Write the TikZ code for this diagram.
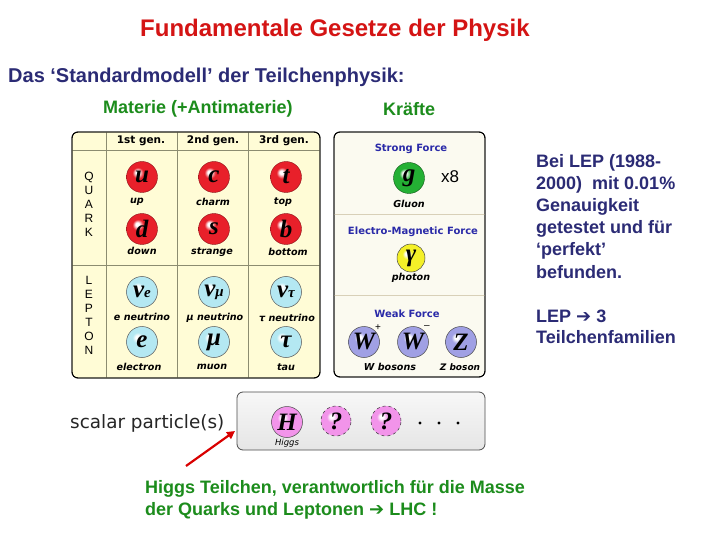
\documentclass[tikz,border=0pt]{standalone}
\usepackage{fontspec}
\setmainfont{Liberation Sans}
\newfontfamily\ballfont{Liberation Serif}
\newfontfamily\dvs{DejaVu Sans}
\usetikzlibrary{arrows.meta}
\definecolor{titlered}{HTML}{D41414}
\definecolor{navy}{HTML}{2B2B75}
\definecolor{mgreen}{HTML}{1C8C1C}
\definecolor{panelY}{HTML}{FFFCD6}
\definecolor{panelF}{HTML}{FBFAF0}
\definecolor{gridc}{HTML}{8C8C70}
\definecolor{forceblue}{HTML}{2A2AA8}
\definecolor{sepc}{HTML}{D8D0B8}
\definecolor{quarkc}{HTML}{E8202A}
\definecolor{leptonc}{HTML}{B4E8F2}
\definecolor{gluonc}{HTML}{24B034}
\definecolor{photonc}{HTML}{F4F028}
\definecolor{weakc}{HTML}{A0A0E4}
\definecolor{higgsc}{HTML}{F294EA}
\colorlet{ballc}{red}
\pgfdeclareradialshading[ballc]{pball}{\pgfpoint{-8bp}{8bp}}{%
  color(0bp)=(white); color(3bp)=(white); color(9bp)=(ballc);
  color(27bp)=(ballc); color(36bp)=(ballc!75!black); color(50bp)=(ballc!60!black)}
\newcommand{\arr}{{\dvs\bfseries ➔}}
\begin{document}
\begin{tikzpicture}[x=1pt,y=-1pt,
  txt/.style={inner sep=0pt, anchor=west},
  bigtxt/.style={txt, font=\bfseries\fontsize{18}{21.75}\selectfont},
  panel/.style={draw=black, line width=0.9pt, rounded corners=6pt},
  bcol/.code={\colorlet{ballc}{#1}},
  ballbase/.style={circle, inner sep=0pt, minimum size=31pt, shading=pball,
     font=\ballfont\bfseries\itshape\fontsize{25}{25}\selectfont},
  qball/.style={ballbase, bcol=quarkc, draw=quarkc!60!black, line width=0.4pt},
  lball/.style={ballbase, bcol=leptonc, draw=gray!70!black, line width=0.5pt},
  gball/.style={ballbase, bcol=gluonc, draw=gluonc!50!black, line width=0.4pt},
  yball/.style={ballbase, minimum size=28pt, bcol=photonc, draw=black!70, line width=0.5pt},
  wball/.style={ballbase, bcol=weakc, draw=black!70, line width=0.5pt},
  hball/.style={ballbase, bcol=higgsc, draw=black!70, line width=0.5pt},
  qmball/.style={ballbase, minimum size=30pt, bcol=higgsc, draw=black!80, dashed, line width=0.5pt},
  plabel/.style={inner sep=0pt, font=\dvs\bfseries\itshape\fontsize{9.6}{10}\selectfont},
  hdr/.style={inner sep=0pt, font=\dvs\bfseries\fontsize{10.5}{11}\selectfont},
  flabel/.style={inner sep=0pt, text=forceblue, font=\dvs\bfseries\fontsize{10}{11}\selectfont},
  grid/.style={draw=gridc, line width=0.6pt}]
\useasboundingbox[fill=white] (0,0) rectangle (720,540);

% --- headings
\node[txt, text=titlered, font=\bfseries\fontsize{24}{24}\selectfont] (title) at (140,30) {Fundamentale Gesetze der Physik};
\node[txt, text=navy, font=\bfseries\fontsize{20}{20}\selectfont] (sub) at (8,77) {Das ‘Standardmodell’ der Teilchenphysik:};
\node[bigtxt, text=mgreen] (materie) at (103,109) {Materie (+Antimaterie)};
\node[bigtxt, text=mgreen] (kraefte) at (383,109) {Kräfte};

% --- matter panel
\path[panel, fill=panelY] (72,132) rectangle (320,378);
\draw[grid] (106,132) -- (106,378) (177,132) -- (177,378) (248,132) -- (248,378);
\draw[grid] (72,150) -- (320,150) (72,265) -- (320,265);
\path[panel] (72,132) rectangle (320,378);
\node[hdr] (g1) at (141,141) {1st gen.};
\node[hdr] (g2) at (213,141) {2nd gen.};
\node[hdr] (g3) at (284,141) {3rd gen.};
\node[align=center, inner sep=0pt, font=\fontsize{12}{14}\selectfont] (quark) at (89,204) {Q\\U\\A\\R\\K};
\node[align=center, inner sep=0pt, font=\fontsize{12}{14}\selectfont] (lepton) at (89,315) {L\\E\\P\\T\\O\\N};

\node[qball] (u) at (142,177) {u};
\node[qball] (c) at (214,177) {c};
\node[qball] (t) at (286,177) {t};
\node[qball] (d) at (142,229) {d};
\node[qball] (s) at (214,229) {s};
\node[qball] (b) at (286,229) {b};
\node[plabel] (lu) at (137,202) {up};
\node[plabel] (lc) at (213,202) {charm};
\node[plabel] (lt) at (283,202) {top};
\node[plabel] (ld) at (142,251) {down};
\node[plabel] (ls) at (212,252) {strange};
\node[plabel] (lb) at (288,252) {bottom};

\node[lball] (ne) at (142,292) {ν\fontsize{15}{15}\selectfont e};
\node[lball] (nm) at (214,292) {ν\fontsize{15}{15}\selectfont μ};
\node[lball] (nt) at (286,292) {ν\fontsize{15}{15}\selectfont τ};
\node[lball] (e) at (142,342) {e};
\node[lball] (mu) at (214,342) {μ};
\node[lball] (tau) at (286,342) {τ};
\node[plabel] (lne) at (142,317) {e neutrino};
\node[plabel] (lnm) at (215,318) {μ neutrino};
\node[plabel] (lnt) at (287,318) {τ neutrino};
\node[plabel] (le) at (139,367) {electron};
\node[plabel] (lmu) at (212,367) {muon};
\node[plabel] (ltau) at (286,367) {tau};

% --- forces panel
\path[panel, fill=panelF] (334,132) rectangle (485,377);
\draw[sepc, line width=0.6pt] (334,214) -- (485,214) (334,295) -- (485,295);
\path[panel] (334,132) rectangle (485,377);
\node[flabel] (strong) at (411,149) {Strong Force};
\node[gball] (g) at (409,178) {g};
\node[inner sep=0pt, font=\fontsize{17}{17}\selectfont] (x8) at (450,177) {x8};
\node[plabel] (lg) at (409,204) {Gluon};
\node[flabel] (em) at (413,232) {Electro-Magnetic Force};
\node[yball] (gam) at (411,258) {γ};
\node[plabel] (lgam) at (411,278) {photon};
\node[flabel] (weak) at (407,314) {Weak Force};
\node[wball] (wp) at (364,342) {W};
\node[wball] (wm) at (413,342) {W};
\node[wball] (z) at (461,342) {Z};
\node[inner sep=0pt, font=\fontsize{10}{10}\selectfont] (plus) at (378,328) {+};
\node[inner sep=0pt, font=\fontsize{10}{10}\selectfont] (minus) at (427,327) {–};
\node[plabel] (lw) at (390,367) {W bosons};
\node[plabel, font=\dvs\bfseries\itshape\fontsize{9}{10}\selectfont] (lz) at (460,367) {Z boson};

% --- scalar panel
\path[draw=gray!60!black, line width=0.8pt, rounded corners=6pt, top color=gray!6, bottom color=gray!20] (237,392) rectangle (485,450);
\node[txt, text=black!85, font=\dvs\fontsize{18.4}{18.4}\selectfont] (scalar) at (70,423) {scalar particle(s)};
\node[hball] (h) at (287,422) {H};
\node[qmball] (q1) at (336,421) {?};
\node[qmball] (q2) at (386,421) {?};
\node[plabel, font=\dvs\itshape\fontsize{8.5}{9}\selectfont] (lh) at (287,443) {Higgs};
\fill (420,423) circle (1.7) (439,423) circle (1.7) (458,423) circle (1.7);

% --- arrow
\coordinate (atail) at (186,466);
\coordinate (ahead) at (235,431);
\draw[red!85!black, line width=2.2pt, -{Triangle[length=8pt,width=8pt]}] (atail) -- (ahead);

% --- right text
\node[bigtxt, text=navy] (r1) at (536,163) {Bei LEP (1988-};
\node[bigtxt, text=navy] (r2) at (536,185) {2000)\ \ mit 0.01\%};
\node[bigtxt, text=navy] (r3) at (536,207) {Genauigkeit};
\node[bigtxt, text=navy] (r4) at (536,229) {getestet und für};
\node[bigtxt, text=navy] (r5) at (536,251) {‘perfekt’};
\node[bigtxt, text=navy] (r6) at (536,272) {befunden.};
\node[bigtxt, text=navy] (r7) at (536,316) {LEP \arr{} 3};
\node[bigtxt, text=navy] (r8) at (536,337) {Teilchenfamilien};

% --- bottom text
\node[bigtxt, text=mgreen] (b1) at (145,489) {Higgs Teilchen, verantwortlich für die Masse};
\node[bigtxt, text=mgreen] (b2) at (145,511) {der Quarks und Leptonen \arr{} LHC !};
\end{tikzpicture}
\end{document}
